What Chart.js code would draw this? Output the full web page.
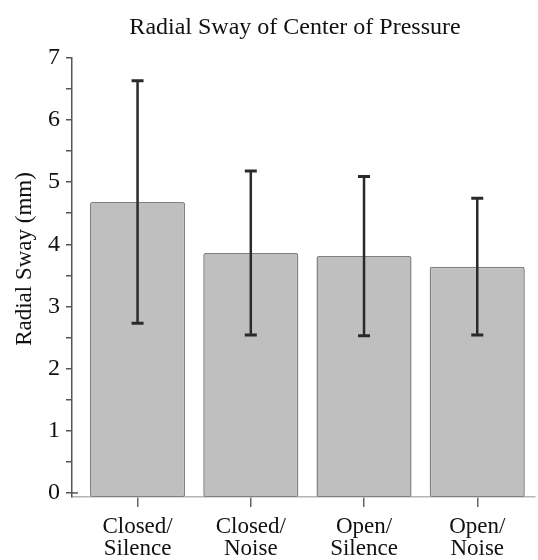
<!DOCTYPE html>
<html><head><meta charset="utf-8">
<script src="https://cdn.jsdelivr.net/npm/chart.js@4"></script>
<style>html,body{margin:0;padding:0;background:#fff}#wrap{width:538px;height:560px}</style>
</head><body><div id="wrap"><canvas id="c" width="538" height="560"></canvas></div>
<script>
const categories = [['Closed/','Silence'],['Closed/','Noise'],['Open/','Silence'],['Open/','Noise']];
const meanSway = [4.68, 3.86, 3.81, 3.64];
const errSway = [1.95, 1.32, 1.28, 1.10];
const yTickValues = [0,0.5,1,1.5,2,2.5,3,3.5,4,4.5,5,5.5,6,6.5,7];
const yLabelTicks = [0,1,2,3,4,5,6,7];
const titleText = 'Radial Sway of Center of Pressure';
const yTitleText = 'Radial Sway (mm)';

const FONT = "'Liberation Serif','Times New Roman',serif";
const Y_MIN = -0.065, Y_MAX = 7;

const errorBars = {
  id: 'errorBars',
  afterLayout(chart) {
    // the reference title is centred a little right of the canvas centre
    if (chart.titleBlock) chart.titleBlock.left = 55;
  },
  afterDatasetsDraw(chart) {
    const ctx = chart.ctx, meta = chart.getDatasetMeta(0), y = chart.scales.y;
    ctx.save();
    ctx.strokeStyle = '#2a2a2a';
    meta.data.forEach((bar, i) => {
      const x = bar.x;
      const top = y.getPixelForValue(meanSway[i] + errSway[i]);
      const bot = y.getPixelForValue(meanSway[i] - errSway[i]);
      ctx.lineWidth = 2.5;
      ctx.beginPath(); ctx.moveTo(x, top); ctx.lineTo(x, bot); ctx.stroke();
      ctx.lineWidth = 3;
      ctx.beginPath();
      ctx.moveTo(x - 6, top); ctx.lineTo(x + 6, top);
      ctx.moveTo(x - 6, bot); ctx.lineTo(x + 6, bot);
      ctx.stroke();
    });
    ctx.restore();
  },
  afterDraw(chart) {
    const ctx = chart.ctx, y = chart.scales.y, area = chart.chartArea;
    ctx.save();
    ctx.strokeStyle = '#555'; ctx.lineWidth = 1.5;
    const y0 = y.getPixelForValue(0);
    ctx.beginPath(); ctx.moveTo(area.left, y0); ctx.lineTo(area.left + 6, y0); ctx.stroke();
    ctx.fillStyle = '#111';
    ctx.font = '23px ' + FONT;
    ctx.textAlign = 'center';
    ctx.textBaseline = 'alphabetic';
    ctx.translate(31, 259);
    ctx.rotate(-Math.PI / 2);
    ctx.fillText(yTitleText, 0, 0);
    ctx.restore();
  }
};

new Chart(document.getElementById('c'), {
  type: 'bar',
  data: {
    datasets: [{
      data: meanSway.map((v, i) => ({x: i, y: v})),
      backgroundColor: '#bfbfbf',
      borderColor: '#808080',
      borderWidth: 1.5,
      borderSkipped: false,
      borderRadius: 2,
      barPercentage: 0.84,
      categoryPercentage: 1,
      base: Y_MIN
    }]
  },
  options: {
    responsive: false,
    animation: false,
    devicePixelRatio: 1,
    layout: {padding: {left: 0, right: 3, top: 0, bottom: 0}},
    plugins: {
      legend: {display: false},
      tooltip: {enabled: false},
      title: {
        display: true,
        text: titleText,
        color: '#111',
        font: {family: FONT, size: 24, weight: 'normal'},
        padding: {top: 13, bottom: 16}
      }
    },
    scales: {
      x: {
        type: 'linear',
        min: -0.579,
        max: 3.51,
        offset: false,
        afterBuildTicks: s => { s.ticks = categories.map((_, i) => ({value: i})); },
        afterFit: s => { s.height = 63; },
        ticks: {
          callback: (v, idx) => categories[idx],
          color: '#111',
          font: {family: FONT, size: 23, lineHeight: 0.96},
          padding: 9,
          maxRotation: 0,
          autoSkip: false
        },
        grid: {offset: false, drawOnChartArea: false, drawTicks: true, tickLength: 10, color: '#666', lineWidth: 1.5},
        border: {display: true, color: '#b5b5b5', width: 1.5}
      },
      y: {
        min: Y_MIN,
        max: Y_MAX,
        afterBuildTicks: s => { s.ticks = yTickValues.map(v => ({value: v})); },
        afterFit: s => { s.width = 72; },
        ticks: {
          callback: v => yLabelTicks.includes(v) ? String(v) : '',
          color: '#111',
          font: {family: FONT, size: 24},
          padding: 6,
          autoSkip: false
        },
        grid: {drawOnChartArea: false, drawTicks: true, tickLength: 6, color: '#555', lineWidth: 1.5},
        border: {display: true, color: '#555', width: 1.5}
      }
    }
  },
  plugins: [errorBars]
});
</script>
</body></html>
